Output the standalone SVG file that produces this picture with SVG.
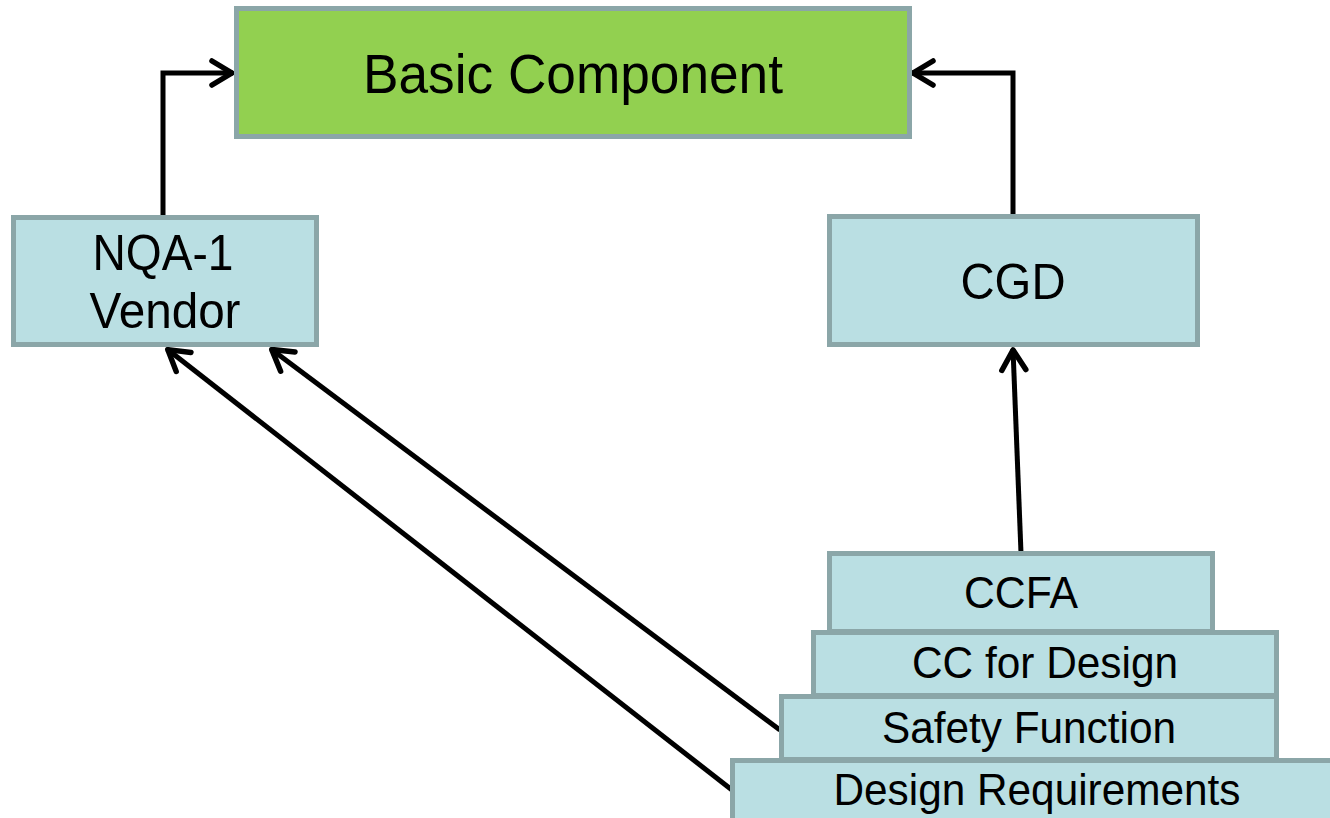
<svg xmlns="http://www.w3.org/2000/svg" width="1330" height="818" viewBox="0 0 1330 818">
  <style>
    .box { fill: #BADFE3; stroke: #8BA6A8; stroke-width: 5; }
    .green { fill: #92D050; stroke: #8BA6A8; stroke-width: 5; }
    .t { font-family: "Liberation Sans", Arial, sans-serif; fill: #000; text-anchor: middle; }
    .conn { fill: none; stroke: #000; stroke-width: 5; marker-end: url(#arr); }
  </style>
  <defs>
    <marker id="arr" markerUnits="userSpaceOnUse" markerWidth="40" markerHeight="40" viewBox="-30 -20 40 40" refX="1" refY="0" orient="auto">
      <path d="M-20,-12 L0,0 L-20,12" fill="none" stroke="#000" stroke-width="5.5" stroke-linejoin="round" stroke-linecap="round"/>
    </marker>
  </defs>
  <rect width="1330" height="818" fill="#fff"/>

  <g id="connectors">
    <path class="conn" d="M163,216 L163,73 L233,73"/>
    <path class="conn" d="M1013,215 L1013,73 L912,73"/>
    <path class="conn" d="M1021,553 L1013,349"/>
    <path class="conn" d="M780,730 L271,349"/>
    <path class="conn" d="M732,790 L167,349"/>
  </g>

  <g id="basic-component">
    <rect class="green" x="236.5" y="8.5" width="673" height="128"/>
    <text class="t" x="573" y="93" font-size="56" textLength="420" lengthAdjust="spacingAndGlyphs">Basic Component</text>
  </g>
  <g id="nqa1-vendor">
    <rect class="box" x="13.5" y="217.5" width="303" height="127"/>
    <text class="t" x="163" y="270" font-size="50" textLength="141" lengthAdjust="spacingAndGlyphs">NQA-1</text>
    <text class="t" x="165" y="328" font-size="50" textLength="151" lengthAdjust="spacingAndGlyphs">Vendor</text>
  </g>
  <g id="cgd">
    <rect class="box" x="829.5" y="216.5" width="368" height="128"/>
    <text class="t" x="1013" y="299" font-size="50" textLength="105" lengthAdjust="spacingAndGlyphs">CGD</text>
  </g>
  <g id="design-requirements">
    <rect class="box" x="732.5" y="760.5" width="620" height="70"/>
    <text class="t" x="1037" y="805" font-size="44" textLength="407" lengthAdjust="spacingAndGlyphs">Design Requirements</text>
  </g>
  <g id="safety-function">
    <rect class="box" x="781.5" y="696.5" width="495" height="63"/>
    <text class="t" x="1029" y="743" font-size="44" textLength="294" lengthAdjust="spacingAndGlyphs">Safety Function</text>
  </g>
  <g id="cc-for-design">
    <rect class="box" x="813.5" y="632.5" width="463" height="63"/>
    <text class="t" x="1045" y="678" font-size="44" textLength="266" lengthAdjust="spacingAndGlyphs">CC for Design</text>
  </g>
  <g id="ccfa">
    <rect class="box" x="829.5" y="553.5" width="383" height="78"/>
    <text class="t" x="1021" y="608" font-size="44" textLength="114" lengthAdjust="spacingAndGlyphs">CCFA</text>
  </g>
</svg>
